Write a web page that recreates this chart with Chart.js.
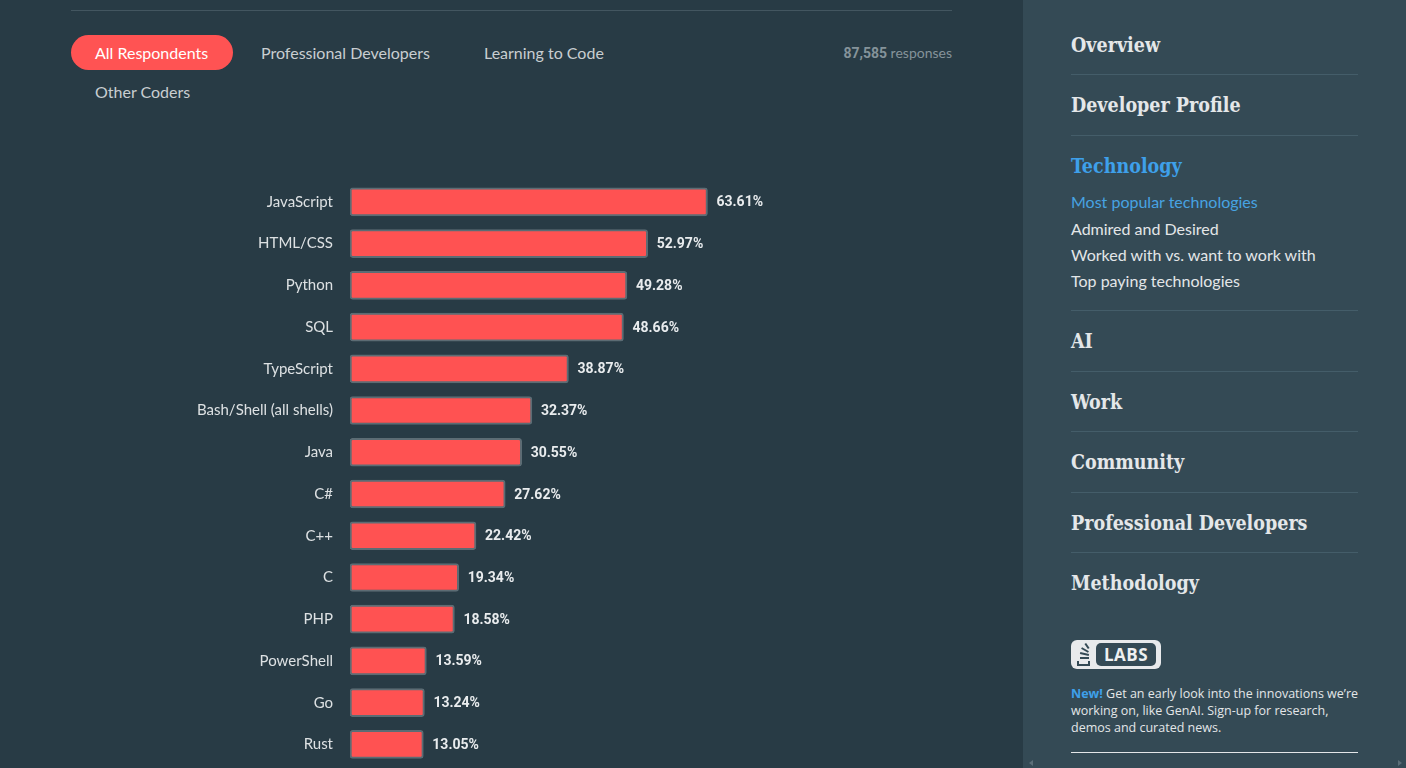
<!DOCTYPE html>
<html>
<head>
<meta charset="utf-8">
<script src="https://cdn.jsdelivr.net/npm/chart.js@4/dist/chart.umd.min.js"></script>
<style>
  html, body { margin: 0; padding: 0; width: 1406px; height: 768px; overflow: hidden; background: #283b45; font-family: Lato, "Open Sans", sans-serif; }
  #main { position: absolute; left: 0; top: 0; width: 1023px; height: 768px; overflow: hidden; background: #283b45; }
  #topline { position: absolute; left: 71px; top: 10px; width: 881px; height: 1px; background: #435660; }
  .tab { position: absolute; font-size: 16px; color: #c9ced1; line-height: 35px; height: 35px; }
  .tab.active { background: #ff5353; color: #fff; border-radius: 18px; padding: 0 24px 0 24px; width: 114px; left: 71px; top: 35px; }
  #resp { position: absolute; right: 71px; top: 44px; font-size: 14px; color: #85939a; }
  #resp b { font-family: Roboto, sans-serif; font-weight: 700; }
  /* the y axis adds label-height/2 + tick padding (18px) above and below the bars */
  #chartWrap { position: absolute; left: 0; top: 163px; width: 960px; height: 662px; }
  #chartWrap canvas { display: block; }
  #side { position: absolute; left: 1023px; top: 0; width: 383px; height: 768px; background: #344a55; }
  .nav { position: absolute; left: 48px; font-family: "DejaVu Serif Condensed", "DejaVu Serif", serif; font-weight: bold; font-size: 19.5px; color: #e4e7e9; line-height: 24px; }
  .nav.cur { color: #3ea0ea; }
  .sep { position: absolute; left: 48px; width: 287px; height: 1px; background: #445d69; }
  .sub { position: absolute; left: 48px; font-size: 16px; color: #e3e6e8; line-height: 20px; }
  .sub.cur { color: #47a3e2; }
  #labs { position: absolute; left: 48px; top: 640px; width: 90px; height: 29px; background: #e8eaec; border-radius: 6px; }
  #labsIn { position: absolute; left: 25px; top: 3px; width: 60px; height: 23px; background: #344a55; border-radius: 5px; color: #eef0f1; font-family: "Open Sans", sans-serif; font-weight: 700; font-size: 17px; line-height: 23px; text-align: center; letter-spacing: 0.5px; }
  .stk { position: absolute; height: 2px; background: #344a55; }
  #news { position: absolute; left: 48px; top: 685px; width: 295px; font-family: "Open Sans", sans-serif; font-size: 12.5px; line-height: 17px; color: #e3e6e8; }
  #news b { color: #3ea0ea; }
  #botline { position: absolute; left: 48px; top: 752px; width: 287px; height: 1px; background: #e3e6e8; }
  .arr { position: absolute; top: 760px; width: 0; height: 0; border-top: 3px solid transparent; border-bottom: 3px solid transparent; }
</style>
</head>
<body>
<div id="main">
  <div id="topline"></div>
  <div class="tab active">All Respondents</div>
  <div class="tab" style="left:261px;top:35px">Professional Developers</div>
  <div class="tab" style="left:484px;top:35px">Learning to Code</div>
  <div class="tab" style="left:95px;top:74px">Other Coders</div>
  <div id="resp"><b>87,585</b> responses</div>
  <div id="chartWrap"><canvas id="ChartCanvas" width="960" height="662"></canvas></div>
</div>
<div id="side">
  <div class="nav" style="top:34px">Overview</div>
  <div class="sep" style="top:74px"></div>
  <div class="nav" style="top:94px">Developer Profile</div>
  <div class="sep" style="top:135px"></div>
  <div class="nav cur" style="top:155px">Technology</div>
  <div class="sub cur" style="top:192px">Most popular technologies</div>
  <div class="sub" style="top:219px">Admired and Desired</div>
  <div class="sub" style="top:245px">Worked with vs. want to work with</div>
  <div class="sub" style="top:271px">Top paying technologies</div>
  <div class="sep" style="top:310px"></div>
  <div class="nav" style="top:330px">AI</div>
  <div class="sep" style="top:371px"></div>
  <div class="nav" style="top:391px">Work</div>
  <div class="sep" style="top:431px"></div>
  <div class="nav" style="top:451px">Community</div>
  <div class="sep" style="top:492px"></div>
  <div class="nav" style="top:512px">Professional Developers</div>
  <div class="sep" style="top:552px"></div>
  <div class="nav" style="top:572px">Methodology</div>
  <div id="labs">
    <div class="stk" style="left:6px;top:21px;width:13px;height:5px;background:none;border:2px solid #344a55;border-top:none;box-sizing:border-box"></div>
    <div class="stk" style="left:9px;top:17px;width:9px"></div>
    <div class="stk" style="left:9px;top:13px;width:9px;transform:rotate(12deg)"></div>
    <div class="stk" style="left:10px;top:9px;width:8px;transform:rotate(30deg)"></div>
    <div class="stk" style="left:13px;top:5px;width:6px;transform:rotate(55deg)"></div>
    <div id="labsIn">LABS</div>
  </div>
  <div id="news"><b>New!</b> Get an early look into the innovations we’re working on, like GenAI. Sign-up for research, demos and curated news.</div>
  <div id="botline"></div>
  <div class="arr" style="left:6px;border-right:4px solid #5b6e78"></div>
  <div class="arr" style="left:375px;border-left:4px solid #5b6e78"></div>
</div>
<script>
const languages = ['JavaScript', 'HTML/CSS', 'Python', 'SQL', 'TypeScript', 'Bash/Shell (all shells)', 'Java', 'C#', 'C++', 'C', 'PHP', 'PowerShell', 'Go', 'Rust', 'Kotlin'];
const shares = [63.61, 52.97, 49.28, 48.66, 38.87, 32.37, 30.55, 27.62, 22.42, 19.34, 18.58, 13.59, 13.24, 13.05, 9.06];
const shareLabels = shares.map(v => v.toFixed(2) + '%');

// percentage text to the right of each bar
const valueLabels = {
  id: 'valueLabels',
  afterDatasetsDraw(chart) {
    const ctx = chart.ctx;
    ctx.save();
    ctx.font = 'bold 14px Roboto, sans-serif';
    ctx.fillStyle = '#e9ecee';
    ctx.textBaseline = 'middle';
    chart.getDatasetMeta(0).data.forEach((bar, i) => {
      ctx.fillText(shareLabels[i], bar.x + 9, bar.y + 1);
    });
    ctx.restore();
  }
};

function barChart() {
  const myChart = document.getElementById('ChartCanvas');

  new Chart(myChart, {
    type: 'bar',
    data: {
      labels: languages,
      datasets: [{
        data: shares,
        backgroundColor: '#ff5252',
        borderColor: '#5c6c74',
        borderWidth: 2,
        borderRadius: 3,
        borderSkipped: false,
        barThickness: 28
      }]
    },
    options: {
      indexAxis: 'y',
      responsive: false,
      maintainAspectRatio: false,
      animation: false,
      devicePixelRatio: 1,
      layout: { autoPadding: false, padding: { left: 0, right: 48, top: 0, bottom: 0 } },
      plugins: { legend: { display: false }, tooltip: { enabled: false } },
      scales: {
        x: { min: 0, max: 100, display: false },
        y: {
          grid: { display: false },
          border: { display: false },
          ticks: {
            color: '#dde1e3',
            padding: 9,
            font: { family: 'Lato, sans-serif', size: 15 }
          },
          afterFit(axis) { axis.width = 350; }
        }
      }
    },
    plugins: [valueLabels]
  });
}

document.addEventListener('DOMContentLoaded', () => {
  barChart();
});
</script>
</body>
</html>
